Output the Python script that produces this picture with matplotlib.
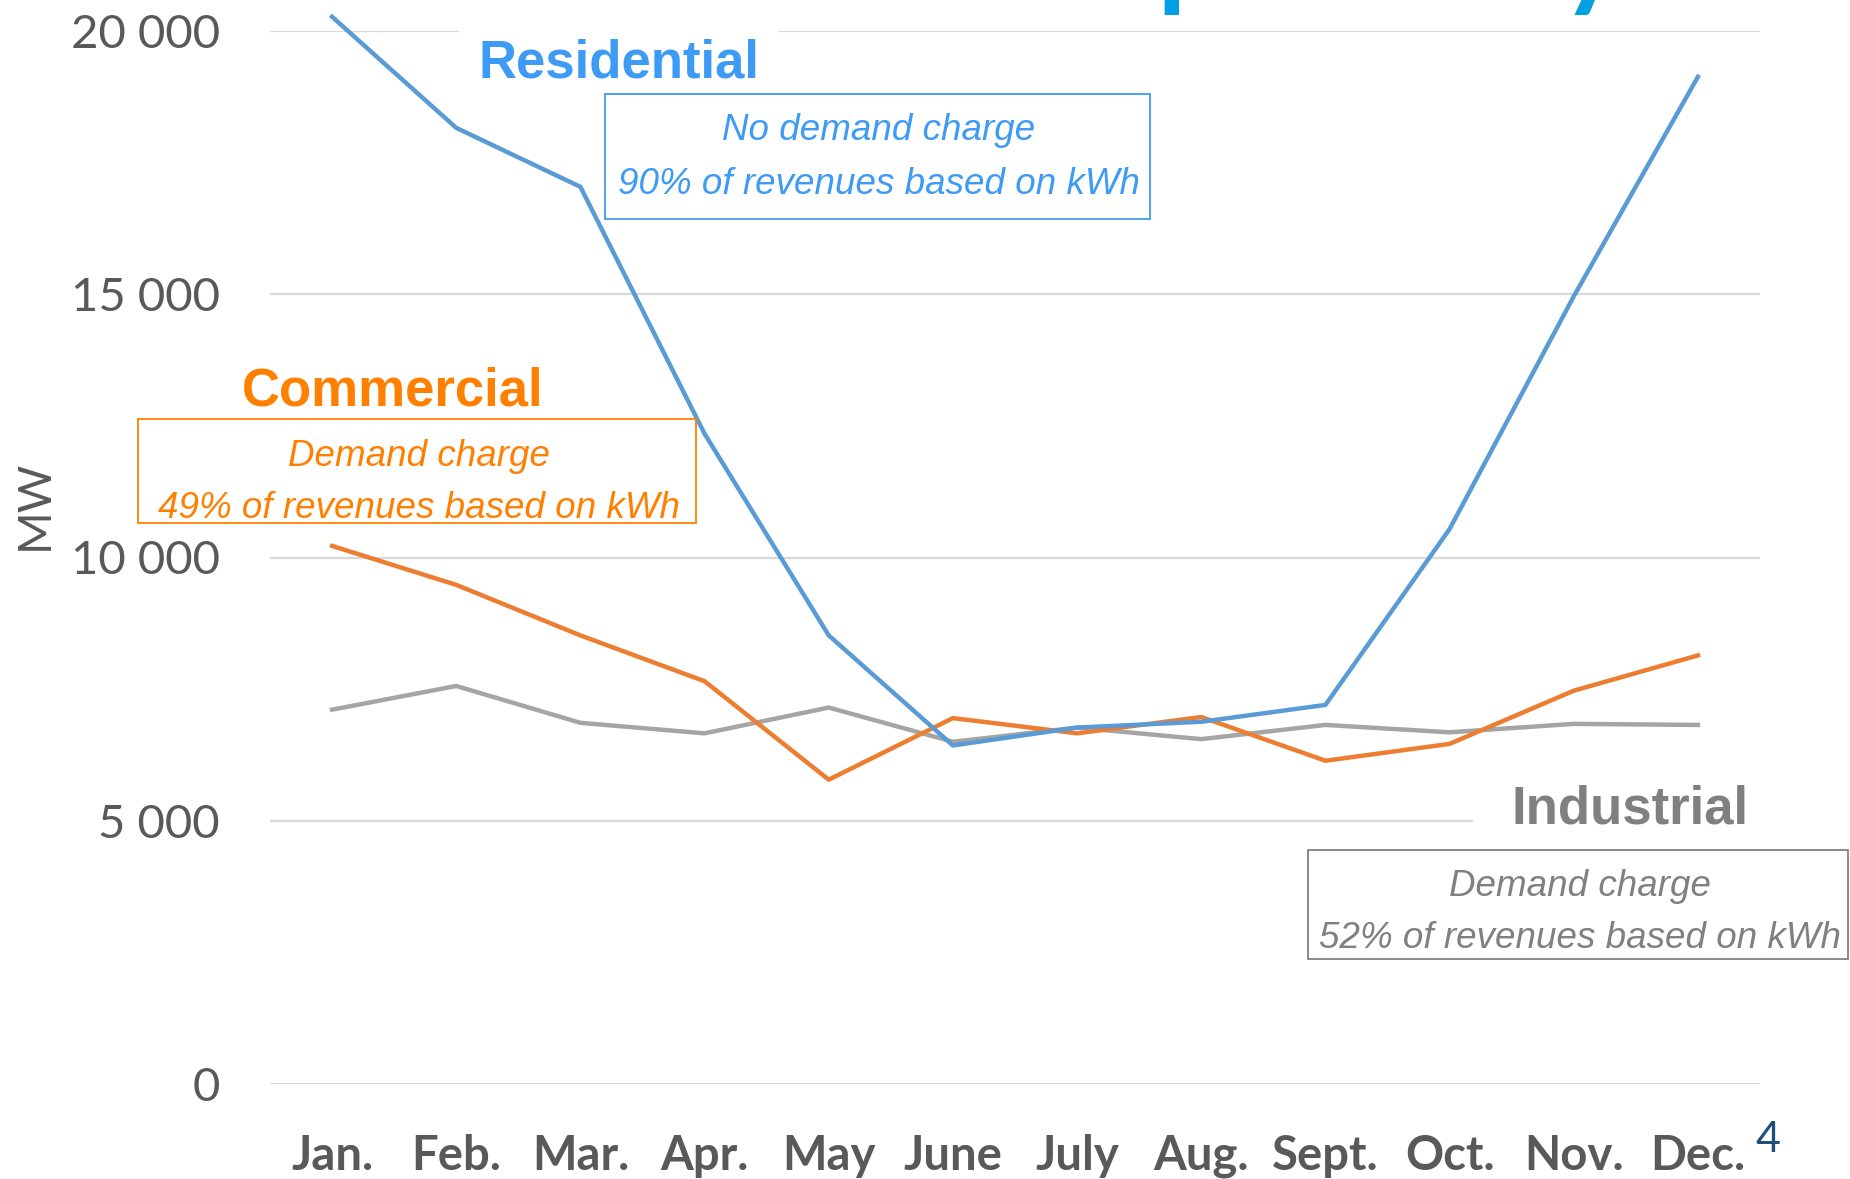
import matplotlib
matplotlib.use("Agg")
import matplotlib.pyplot as plt
from matplotlib.patches import Rectangle

months = ["Jan.", "Feb.", "Mar.", "Apr.", "May", "June", "July", "Aug.", "Sept.", "Oct.", "Nov.", "Dec."]
residential = [20270, 18160, 17040, 12350, 8520, 6430, 6770, 6880, 7200, 10540, 14960, 19130]
commercial = [10220, 9480, 8520, 7650, 5780, 6950, 6660, 6970, 6140, 6460, 7470, 8140]
industrial = [7110, 7560, 6860, 6660, 7150, 6500, 6770, 6550, 6820, 6680, 6840, 6820]
yticks = [0, 5000, 10000, 15000, 20000]
ytick_labels = ["0", "5 000", "10 000", "15 000", "20 000"]

W, H = 1850, 1179
fig = plt.figure(figsize=(W / 100, H / 100), dpi=100)

def fx(px):
    return px / W

def fy(py):
    return 1 - py / H

ax = fig.add_axes([fx(270), fy(1084), fx(1760) - fx(270), fy(31) - fy(1084)])
x = list(range(len(months)))
ax.plot(x, industrial, color="#A5A5A5", lw=3.2, clip_on=False, zorder=3)
ax.plot(x, commercial, color="#ED7D31", lw=3.2, clip_on=False, zorder=4)
ax.plot(x, residential, color="#5B9BD5", lw=3.2, clip_on=False, zorder=5)
ax.set_xlim(-0.5, 11.5)
ax.set_ylim(0, 20000)
ax.set_yticks(yticks)
ax.set_yticklabels(ytick_labels, family="Lato", fontsize=34, color="#595959")
ax.set_xticks(x)
ax.set_xticklabels(months, family="Lato", fontsize=34, weight="bold", color="#595959")
ax.tick_params(axis="both", length=0)
ax.tick_params(axis="y", pad=36)
ax.tick_params(axis="x", pad=36)
ax.grid(axis="y", color="#D9D9D9", lw=1.6, zorder=0)
ax.set_axisbelow(True)
for s in ax.spines.values():
    s.set_visible(False)

fig.text(fx(35), fy(505), "MW", rotation=90, ha="center", va="center",
         family="Lato", fontsize=33, color="#595959")

# gridline breaks behind labels
fig.add_artist(Rectangle((fx(459), fy(44)), fx(778) - fx(459), fy(20) - fy(44),
                         transform=fig.transFigure, facecolor="white", edgecolor="none", zorder=1))
fig.add_artist(Rectangle((fx(1473), fy(834)), fx(1765) - fx(1473), fy(810) - fy(834),
                         transform=fig.transFigure, facecolor="white", edgecolor="none", zorder=1))

# series labels
fig.text(fx(619), fy(77), "Residential", ha="center", va="baseline", family="Liberation Sans",
         weight="bold", fontsize=38, color="#3D9BF5", zorder=2)
fig.text(fx(393), fy(405), "Commercial", ha="center", va="baseline", family="Liberation Sans",
         weight="bold", fontsize=38, color="#FF8000", zorder=2)
fig.text(fx(1630), fy(824), "Industrial", ha="center", va="baseline", family="Liberation Sans",
         weight="bold", fontsize=38, color="#808080", zorder=2)

def box(x0, y0, x1, y1, color, lines, cx, ys):
    fig.add_artist(Rectangle((fx(x0), fy(y1)), fx(x1) - fx(x0), fy(y0) - fy(y1),
                             transform=fig.transFigure, facecolor="none", edgecolor=color,
                             lw=1.3, zorder=0.5))
    for line, yy in zip(lines, ys):
        fig.text(fx(cx), fy(yy), line, ha="center", va="center", family="Liberation Sans",
                 style="italic", fontsize=26.5, color=color, zorder=2)

box(605, 94, 1150, 219, "#3D9BF5", ["No demand charge", "90% of revenues based on kWh"], 879, [130, 185])
box(138, 419, 696, 523, "#FF8000", ["Demand charge", "49% of revenues based on kWh"], 419, [456, 509])
box(1308, 850, 1848, 959, "#808080", ["Demand charge", "52% of revenues based on kWh"], 1580, [886, 939])

fig.text(fx(1768), fy(1152), "4", ha="center", va="baseline", family="Lato", fontsize=31, color="#1F4E79")

# clipped title at the top edge (only descenders visible)
TITLE_FS = 84
renderer = fig.canvas.get_renderer()
tp = fig.text(0, 0, "Winter p", family="Lato", weight="bold", fontsize=TITLE_FS)
tq = fig.text(0, 0, "p", family="Lato", weight="bold", fontsize=TITLE_FS)
off = tp.get_window_extent(renderer).width - tq.get_window_extent(renderer).width
tp.remove()
tq.remove()
fig.text(fx(1158 - off), fy(-5), "Winter peak day", ha="left", va="baseline",
         family="Lato", weight="bold", fontsize=TITLE_FS, color="#00A0E3")

fig.savefig("out.png", dpi=100)
